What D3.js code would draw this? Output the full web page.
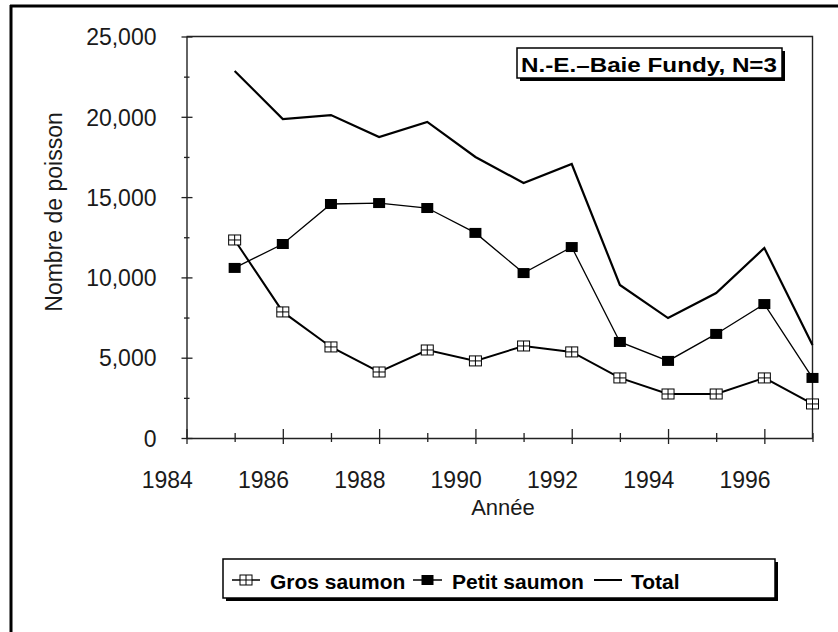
<!DOCTYPE html>
<html>
<head>
<meta charset="utf-8">
<script src="https://cdn.jsdelivr.net/npm/d3@7"></script>
<style>
  body { margin: 0; background: #fff; }
  text { font-family: "Liberation Sans", Arial, sans-serif; fill: #1a1a1a; }
</style>
</head>
<body>
<svg id="chart" width="838" height="632"></svg>
<script>
// Data
const years = [1985, 1986, 1987, 1988, 1989, 1990, 1991, 1992, 1993, 1994, 1995, 1996, 1997];
const grosSaumon = [12330, 7850, 5670, 4110, 5480, 4800, 5730, 5360, 3740, 2740, 2740, 3740, 2120];
const petitSaumon = [10590, 12080, 14570, 14630, 14320, 12770, 10270, 11890, 5980, 4800, 6480, 8340, 3740];
const total = [22850, 19860, 20110, 18740, 19680, 17500, 15880, 17060, 9530, 7470, 9030, 11830, 5790];
const xTickYears = [1984, 1985, 1986, 1987, 1988, 1989, 1990, 1991, 1992, 1993, 1994, 1995, 1996, 1997];
const xLabelYears = [1984, 1986, 1988, 1990, 1992, 1994, 1996];
const yTickValues = [0, 2500, 5000, 7500, 10000, 12500, 15000, 17500, 20000, 22500, 25000];
const legendLabels = ["Gros saumon", "Petit saumon", "Total"];

const svg = d3.select("#chart");

// Outer frame (only top and left edges visible in the scan)
svg.append("line").attr("x1", 11).attr("x2", 11).attr("y1", 5).attr("y2", 632)
  .style("stroke", "#000").style("stroke-width", 3);
svg.append("line").attr("x1", 10).attr("x2", 838).attr("y1", 6).attr("y2", 6)
  .style("stroke", "#000").style("stroke-width", 3);

// Scales
const x = d3.scaleLinear().domain([1984, 1997]).range([186.5, 812.5]);
const y = d3.scaleLinear().domain([0, 25000]).range([438, 36.5]);

// Plot box top + right edges
svg.append("path")
  .attr("d", `M${x(1984)},${y(25000)}H${x(1997)}V${y(0)}`)
  .style("fill", "none").style("stroke", "#222").style("stroke-width", 1.4);

// Y axis
const yAxis = svg.append("g")
  .attr("transform", `translate(${x(1984)},0)`)
  .call(d3.axisLeft(y).tickValues(yTickValues).tickSize(0).tickPadding(30)
    .tickFormat((d) => (d % 5000 === 0 ? d3.format(",")(d) : "")));
yAxis.select(".domain").style("stroke", "#222").style("stroke-width", 1.4);
yAxis.selectAll(".tick line")
  .attr("x1", (d) => (d % 5000 === 0 ? -5 : -2.5))
  .attr("x2", (d) => (d % 5000 === 0 ? 6 : 3))
  .style("stroke", "#222").style("stroke-width", 1.3);
yAxis.selectAll(".tick text")
  .style("font-size", "23px").style("font-family", "Liberation Sans, Arial, sans-serif")
  .style("fill", "#1a1a1a").attr("dy", "0.36em");

// X axis
const xAxis = svg.append("g")
  .attr("transform", `translate(0,${y(0)})`)
  .call(d3.axisBottom(x).tickValues(xTickYears).tickSize(0).tickFormat(""));
xAxis.select(".domain").style("stroke", "#222").style("stroke-width", 1.4);
xAxis.selectAll(".tick line")
  .attr("y1", (d) => ((d - 1984) % 2 === 0 ? -9 : -5))
  .attr("y2", (d) => ((d - 1984) % 2 === 0 ? 6 : 4))
  .style("stroke", "#222").style("stroke-width", 1.3);

// Year labels sit offset from the ticks in the original figure
svg.selectAll("text.x-label").data(xLabelYears).enter()
  .append("text").classed("x-label", true)
  .attr("x", (d) => x(d - 0.4))
  .attr("y", 488)
  .attr("text-anchor", "middle")
  .style("font-size", "23px")
  .text((d) => d);

// Axis titles
svg.append("text")
  .attr("x", 503).attr("y", 515)
  .attr("text-anchor", "middle")
  .style("font-size", "22px")
  .text("Année");
svg.append("text")
  .attr("transform", "translate(62,212) rotate(-90)")
  .attr("text-anchor", "middle")
  .style("font-size", "23px")
  .text("Nombre de poisson");

// Lines
const line = (vals) => d3.line()
  .x((_, i) => x(years[i]))
  .y((d) => y(d))(vals);

svg.append("path").attr("d", line(total))
  .style("fill", "none").style("stroke", "#000").style("stroke-width", 2.2);
svg.append("path").attr("d", line(petitSaumon))
  .style("fill", "none").style("stroke", "#000").style("stroke-width", 1.3);
svg.append("path").attr("d", line(grosSaumon))
  .style("fill", "none").style("stroke", "#000").style("stroke-width", 2);

// Markers
const drawGrosMarker = (g, cx, cy) => {
  g.append("rect").attr("x", cx - 6).attr("y", cy - 5).attr("width", 12).attr("height", 10)
    .style("fill", "#fff").style("stroke", "#000").style("stroke-width", 1);
  g.append("path").attr("d", `M${cx},${cy - 5}V${cy + 5}M${cx - 6},${cy}H${cx + 6}`)
    .style("stroke", "#000").style("stroke-width", 1);
};
const drawPetitMarker = (g, cx, cy) => {
  g.append("rect").attr("x", cx - 6).attr("y", cy - 5).attr("width", 12).attr("height", 10)
    .style("fill", "#000");
};

const markers = svg.append("g");
petitSaumon.forEach((d, i) => drawPetitMarker(markers, x(years[i]), y(d)));
grosSaumon.forEach((d, i) => drawGrosMarker(markers, x(years[i]), y(d)));

// Boxed label with drop shadow
const shadowBox = (bx, by, bw, bh) => {
  svg.append("rect").attr("x", bx + 3).attr("y", by + 3).attr("width", bw).attr("height", bh)
    .style("fill", "#000");
  svg.append("rect").attr("x", bx).attr("y", by).attr("width", bw).attr("height", bh)
    .style("fill", "#fff").style("stroke", "#000").style("stroke-width", 1.5);
};

shadowBox(517, 48, 265, 30);
svg.append("text")
  .attr("x", 649).attr("y", 72)
  .attr("text-anchor", "middle")
  .attr("textLength", 256).attr("lengthAdjust", "spacingAndGlyphs")
  .style("font-size", "21px").style("font-weight", "bold").style("fill", "#000")
  .text("N.-E.–Baie Fundy, N=3");

// Legend
shadowBox(223, 559, 552, 39);
const legendItems = [
  { label: legendLabels[0], x0: 232, x1: 260, tx: 270, marker: drawGrosMarker, w: 1.5 },
  { label: legendLabels[1], x0: 413, x1: 442, tx: 452, marker: drawPetitMarker, w: 1.5 },
  { label: legendLabels[2], x0: 594, x1: 622, tx: 631, marker: null, w: 2 },
];
const legendY = 582;
const legendG = svg.append("g");
legendItems.forEach((d) => {
  legendG.append("line").attr("x1", d.x0).attr("x2", d.x1)
    .attr("y1", legendY - 2).attr("y2", legendY - 2)
    .style("stroke", "#000").style("stroke-width", d.w);
  if (d.marker) d.marker(legendG, (d.x0 + d.x1) / 2, legendY - 2);
  legendG.append("text")
    .attr("x", d.tx).attr("y", legendY + 7)
    .style("font-size", "21px").style("font-weight", "bold").style("fill", "#000")
    .text(d.label);
});
</script>
</body>
</html>
